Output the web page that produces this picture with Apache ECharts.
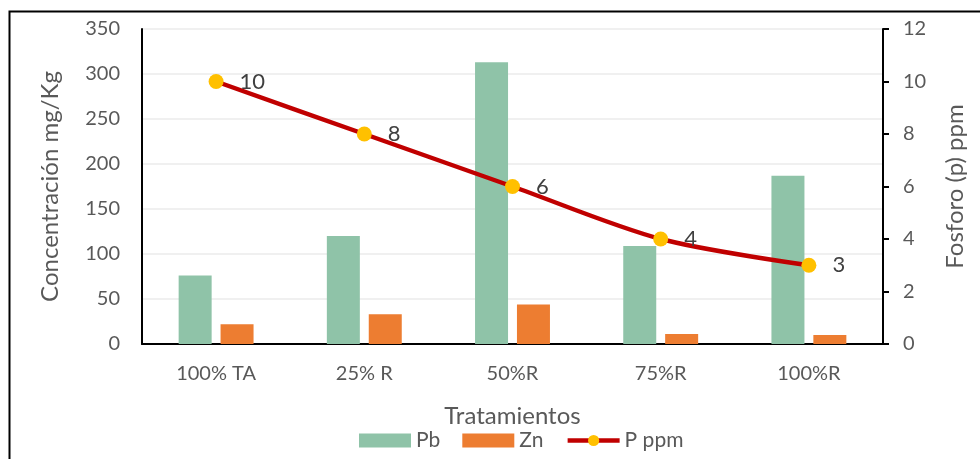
<!DOCTYPE html>
<html><head><meta charset="utf-8">
<script src="https://cdn.jsdelivr.net/npm/echarts@6/dist/echarts.min.js"></script>
<style>html,body{margin:0;padding:0;background:#fff}#c{width:980px;height:459px}</style>
</head><body><div id="c"></div>
<script>
const categories = ['100% TA', '25% R', '50%R', '75%R', '100%R'];
const pb = [76, 120, 313, 109, 187];
const zn = [22, 33, 44, 11, 10];
const pppm = [10, 8, 6, 4, 3];
const leftTicks = [0, 350, 50];
const rightTicks = [0, 12, 2];

const chart = echarts.init(document.getElementById('c'), null, {renderer: 'canvas'});
const font = 'Lato, "Open Sans", sans-serif';
chart.setOption({
  animation: false,
  textStyle: {fontFamily: font},
  graphic: [{
    type: 'rect', left: 7, top: 9, z: 100,
    shape: {width: 1000, height: 480},
    style: {fill: 'none', stroke: '#000', lineWidth: 2}
  }],
  grid: {left: 142, right: 97, top: 29, bottom: 115, containLabel: false},
  legend: {
    bottom: 3, left: 354, itemGap: 22,
    itemWidth: 52, itemHeight: 14,
    textStyle: {fontSize: 21, color: '#595959', fontFamily: font},
    data: [
      {name: 'Pb', icon: 'rect'},
      {name: 'Zn', icon: 'rect'},
      {name: 'P ppm', lineStyle: {width: 4.5}}
    ]
  },
  xAxis: {
    type: 'category', data: categories,
    name: 'Tratamientos', nameLocation: 'middle', nameGap: 60,
    nameTextStyle: {fontSize: 24, color: '#595959'},
    axisLine: {lineStyle: {color: '#000', width: 2}},
    axisTick: {show: false},
    axisLabel: {fontSize: 20, color: '#595959', margin: 20}
  },
  yAxis: [{
    type: 'value', min: leftTicks[0], max: leftTicks[1], interval: leftTicks[2],
    name: 'Concentración mg/Kg', nameLocation: 'middle', nameGap: 80,
    nameTextStyle: {fontSize: 24, color: '#595959'},
    axisLine: {show: true, lineStyle: {color: '#000', width: 2}},
    axisTick: {show: false},
    axisLabel: {fontSize: 20, color: '#595959', margin: 22},
    splitLine: {lineStyle: {color: '#EBEBEB', width: 1.5}}
  }, {
    type: 'value', min: rightTicks[0], max: rightTicks[1], interval: rightTicks[2],
    name: 'Fosforo (p) ppm', nameLocation: 'middle', nameGap: 60,
    nameTextStyle: {fontSize: 24, color: '#595959'},
    position: 'right',
    axisLine: {show: true, lineStyle: {color: '#000', width: 2}},
    axisTick: {show: true, inside: false, length: 6, lineStyle: {color: '#000', width: 2}},
    axisLabel: {fontSize: 20, color: '#595959', margin: 20},
    splitLine: {show: false}
  }],
  series: [{
    name: 'Pb', type: 'bar', data: pb, barWidth: 33, barGap: '27%',
    itemStyle: {color: '#8FC3A8'}
  }, {
    name: 'Zn', type: 'bar', data: zn, barWidth: 33,
    itemStyle: {color: '#ED7D31'}
  }, {
    name: 'P ppm', type: 'line', yAxisIndex: 1, data: pppm, smooth: 0.3,
    symbol: 'circle', symbolSize: 15,
    lineStyle: {color: '#C00000', width: 4.5},
    itemStyle: {color: '#FFC000'},
    label: {show: true, position: 'right', distance: 16, fontSize: 22, color: '#404040'},
    z: 5
  }]
});
</script></body></html>
